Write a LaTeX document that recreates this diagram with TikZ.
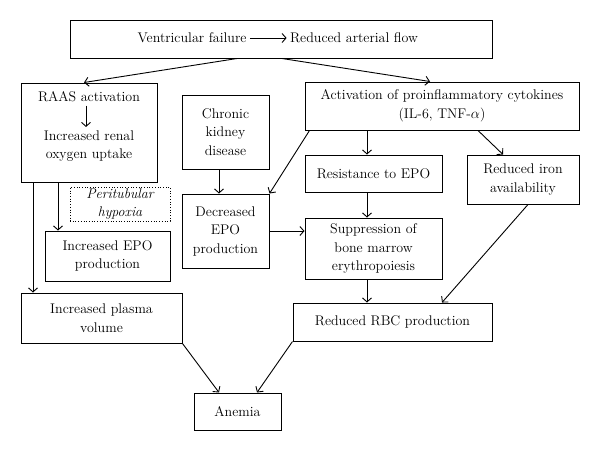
\documentclass[tikz,border=0pt]{standalone}
\usepackage{tikz}
\usetikzlibrary{arrows.meta,positioning}

\begin{document}
\begin{tikzpicture}[x=1pt, y=-1pt, line width=1pt,
  font=\fontsize{14}{18.5}\selectfont,
  box/.style={draw, align=center, inner sep=0pt},
  txt/.style={align=center, inner sep=0pt},
  arr/.style={line width=0.9pt, -{Straight Barb[length=4pt,width=9pt]}}]
  \useasboundingbox (0,0) rectangle (600,451);

  \node[box, minimum width=422pt, minimum height=38pt] (top) at (281,39) {};
  \node[txt] (vf) at (192,38) {Ventricular failure};
  \node[txt] (raf) at (354,38) {Reduced arterial flow};

  \node[box, minimum width=136pt, minimum height=99pt] (raas) at (89,132.5) {};
  \node[txt] (raasact) at (89,97) {RAAS activation};
  \node[txt] (uptake) at (89,146) {Increased renal\\oxygen uptake};

  \node[box, minimum width=87pt, minimum height=74pt] (ckd) at (225.5,132) {Chronic\\kidney\\disease};
  \node[box, minimum width=274pt, minimum height=48pt] (act) at (442,106) {Activation of proinflammatory cytokines\\(IL-6, TNF-$\alpha$)};
  \node[box, minimum width=137pt, minimum height=37pt] (res) at (373.5,173.5) {Resistance to EPO};
  \node[box, minimum width=112pt, minimum height=49pt] (iron) at (523,179.5) {Reduced iron\\availability};

  \node[box, dotted, line width=0.7pt, minimum width=100pt, minimum height=34pt, font=\fontsize{14}{18.5}\selectfont\itshape] (hyp) at (120,204) {Peritubular\\hypoxia};
  \node[box, minimum width=125pt, minimum height=50pt] (incepo) at (107.5,256) {Increased EPO\\production};
  \node[box, minimum width=87pt, minimum height=74pt] (decepo) at (225.5,231) {Decreased\\EPO\\production};
  \node[box, minimum width=137pt, minimum height=61pt] (supp) at (373.5,248.5) {Suppression of\\bone marrow\\erythropoiesis};

  \node[box, minimum width=161pt, minimum height=50pt] (plasma) at (101.5,318) {Increased plasma\\volume};
  \node[box, minimum width=199pt, minimum height=38pt] (rbc) at (392.5,322) {Reduced RBC production};
  \node[box, minimum width=87pt, minimum height=37pt] (anemia) at (237.5,411.5) {Anemia};

  % arrows
  \draw[arr, shorten <=3pt, shorten >=3pt] (vf) -- (raf);
  \draw[arr] ([xshift=-44pt]top.south) -- ([xshift=-5pt]raas.north);
  \draw[arr] ([xshift=1pt]top.south) -- ([xshift=-12pt]act.north);
  \draw[arr, shorten <=3pt, shorten >=3pt] ([xshift=-3pt]raasact.south) -- ([xshift=-3pt]uptake.north);
  \draw[arr] ([xshift=-56pt]raas.south) -- ([xshift=-68.5pt]plasma.north);
  \draw[arr] ([xshift=-31pt]raas.south) -- ([xshift=-49.5pt]incepo.north);
  \draw[arr] ([xshift=-6.5pt]ckd.south) -- ([xshift=-6.5pt]decepo.north);
  \draw[arr] ([xshift=5pt]act.south west) -- (decepo.north east);
  \draw[arr] ([xshift=-75pt]act.south) -- ([xshift=-6.5pt]res.north);
  \draw[arr] ([xshift=36pt]act.south) -- ([xshift=-20pt]iron.north);
  \draw[arr] ([xshift=-6.5pt]res.south) -- ([xshift=-6.5pt]supp.north);
  \draw[arr] (decepo.east) -- (decepo.east -| supp.west);
  \draw[arr] ([xshift=-6.5pt]supp.south) -- ([xshift=-25.5pt]rbc.north);
  \draw[arr] ([xshift=5pt]iron.south) -- ([xshift=49.5pt]rbc.north);
  \draw[arr] (plasma.south east) -- ([xshift=-18.5pt]anemia.north);
  \draw[arr] (rbc.south west) -- ([xshift=19.5pt]anemia.north);
\end{tikzpicture}
\end{document}
